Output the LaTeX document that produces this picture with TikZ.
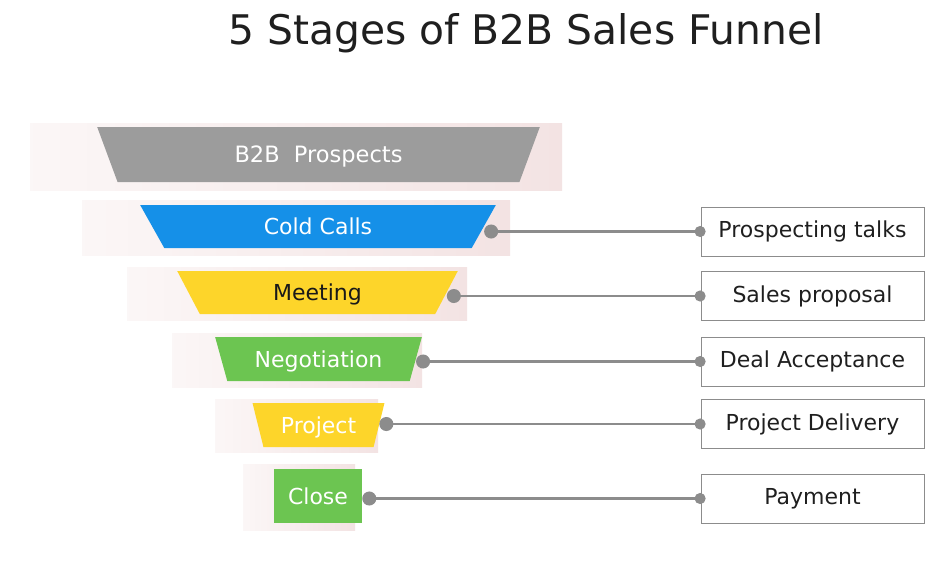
\documentclass[tikz,border=0pt]{standalone}
\usepackage{fontspec}
\setmainfont{DejaVu Sans}
\usetikzlibrary{arrows.meta,positioning,shapes.geometric}

\definecolor{funnelgray}{HTML}{9C9C9C}
\definecolor{funnelblue}{HTML}{1590E8}
\definecolor{funnelyellow}{HTML}{FDD52A}
\definecolor{funnelgreen}{HTML}{6CC551}
\definecolor{shadepink}{HTML}{F3E3E3}
\definecolor{linkgray}{HTML}{8C8C8C}

\begin{document}
\begin{tikzpicture}[
    x = 1pt, y = -1pt, % pixel grid, y grows downwards
    semithick % line style
    ]

    \tikzset{
      stage/.style={
        trapezium, shape border rotate=180, trapezium stretches=true,
        trapezium angle=62, inner sep=0pt, text=white,
        text height=16pt, text depth=0pt,
        font=\fontsize{22}{26}\selectfont},
      backdrop/.style={left color=shadepink!30, right color=shadepink},
      result/.style={draw=linkgray, thick, minimum width=223pt,
        minimum height=49pt, inner sep=0pt, text=black!88,
        font=\fontsize{22}{26}\selectfont},
      link/.style={linkgray, line width=2.2pt, shorten > = -5pt,
        {Circle[length=14pt]}-{Circle[length=11pt]}}
    }
    \useasboundingbox (0,0) rectangle (945,566);

    \node[font=\fontsize{40.8}{48}\selectfont, text=black!88] (title) at (526,33)
      {5 Stages of B2B Sales Funnel};

    % soft shadows behind the funnel
    \fill[backdrop] (30,123) rectangle (562,190);
    \fill[backdrop] (82,200) rectangle (510,255);
    \fill[backdrop] (127,267) rectangle (467,320);
    \fill[backdrop] (172,333) rectangle (422,387);
    \fill[backdrop] (215,399) rectangle (378,452);
    \fill[backdrop] (243,464) rectangle (355,530);

    % funnel stages
    \node[stage, fill=funnelgray, minimum width=443pt, minimum height=55pt,
      font=\fontsize{22.5}{26}\selectfont] (s1) at (318.5,154.5) {B2B\ \ Prospects};
    \node[stage, fill=funnelblue, minimum width=356pt, minimum height=43pt] (s2) at (318,226.5) {Cold Calls};
    \node[stage, fill=funnelyellow, minimum width=281pt, minimum height=43pt, text=black!90] (s3) at (317.5,292.5) {Meeting};
    \node[stage, fill=funnelgreen, minimum width=207pt, minimum height=44pt] (s4) at (318.5,359) {Negotiation};
    \node[stage, fill=funnelyellow, minimum width=133pt, minimum height=44pt, trapezium angle=65] (s5) at (318.5,425) {Project};
    \node[rectangle, fill=funnelgreen, minimum width=88pt, minimum height=54pt,
      inner sep=0pt, text=white, text height=16pt, text depth=0pt,
      font=\fontsize{22}{26}\selectfont] (s6) at (318,496) {Close};

    % outcomes
    \node[result] (b1) at (812.5,231.5) {Prospecting talks};
    \node[result] (b2) at (812.5,296) {Sales proposal};
    \node[result] (b3) at (812.5,361.5) {Deal Acceptance};
    \node[result] (b4) at (812.5,424) {Project Delivery};
    \node[result] (b5) at (812.5,498.5) {Payment};

    \draw[link] (s2.east |- b1) -- (b1.west);
    \draw[link] (s3.east |- b2) -- (b2.west);
    \draw[link] (s4.east |- b3) -- (b3.west);
    \draw[link] (s5.east |- b4) -- (b4.west);
    \draw[link] (s6.east |- b5) -- (b5.west);
\end{tikzpicture}
\end{document}
